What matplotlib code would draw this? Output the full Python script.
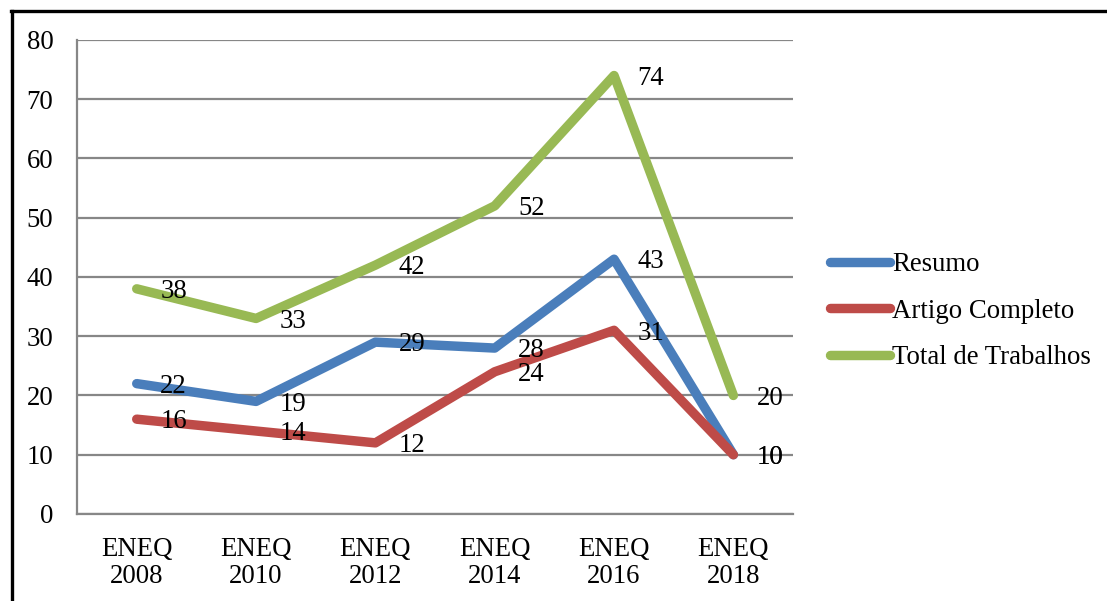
import matplotlib
matplotlib.use("Agg")
import matplotlib.pyplot as plt
from matplotlib.lines import Line2D

plt.rcParams['font.family'] = ['Liberation Serif', 'DejaVu Serif']

categories = ["ENEQ\n2008", "ENEQ\n2010", "ENEQ\n2012", "ENEQ\n2014", "ENEQ\n2016", "ENEQ\n2018"]
resumo = [22, 19, 29, 28, 43, 10]
artigo_completo = [16, 14, 12, 24, 31, 10]
total_trabalhos = [38, 33, 42, 52, 74, 20]

series = [
    ("Resumo", resumo, "#4A7EBB"),
    ("Artigo Completo", artigo_completo, "#BE4B48"),
    ("Total de Trabalhos", total_trabalhos, "#98B954"),
]

FS = 19.3
fig = plt.figure(figsize=(11.07, 6.01), dpi=100)
ax = fig.add_axes([0.0696, 0.1448, 0.6468, 0.7887])

x = list(range(len(categories)))
for name, vals, color in series:
    ax.plot(x, vals, color=color, lw=6.8, label=name,
            solid_capstyle='round', solid_joinstyle='round', zorder=3)
    for xi, v in zip(x, vals):
        ax.annotate(str(v), (xi, v), xytext=(17, -2), textcoords='offset points',
                    ha='left', va='center', fontsize=FS, color='black', zorder=4)

ax.set_xlim(-0.5, len(categories) - 0.5)
ax.set_ylim(0, 80)
ax.set_yticks(range(0, 81, 10))
ax.set_xticks(x)
ax.set_xticklabels(categories, fontsize=FS, linespacing=1.13)
ax.tick_params(axis='y', labelsize=FS, length=0, pad=17)
ax.tick_params(axis='x', length=0, pad=16.5)

ax.grid(axis='y', color='#878787', lw=1.6, zorder=1)
ax.set_axisbelow(True)
for side in ('top', 'right'):
    ax.spines[side].set_visible(False)
for side in ('left', 'bottom'):
    ax.spines[side].set_color('#878787')
    ax.spines[side].set_linewidth(1.6)

leg = fig.legend(loc='center left', bbox_to_anchor=(0.7498, 0.4825), frameon=False,
                 fontsize=FS, handlelength=2.25, handletextpad=0.08,
                 labelspacing=0.8, borderaxespad=0, borderpad=0)

# outer frame of the chart (top and left edges)
fig.add_artist(Line2D([0.0095, 1.0], [0.9817, 0.9817], transform=fig.transFigure,
                      color='black', lw=2.4))
fig.add_artist(Line2D([0.0105, 0.0105], [0.0, 0.9817], transform=fig.transFigure,
                      color='black', lw=2.4))

fig.savefig("out.png", dpi=100)
